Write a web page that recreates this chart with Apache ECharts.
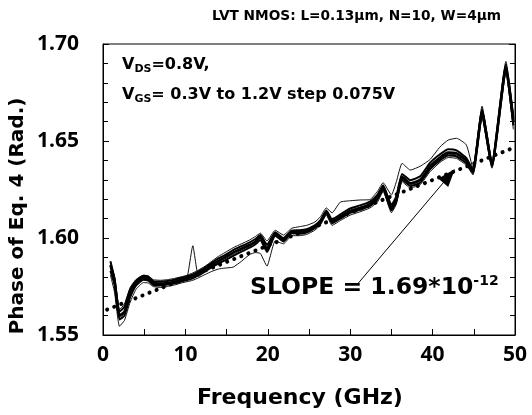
<!DOCTYPE html>
<html>
<head>
<meta charset="utf-8">
<script src="https://cdn.jsdelivr.net/npm/echarts@6/dist/echarts.min.js"></script>
<style>
html,body{margin:0;padding:0;background:#fff;}
#chart{width:532px;height:415px;}
</style>
</head>
<body>
<div id="chart"></div>
<script>
// Frequency points (GHz)
const freq = [0.9,1.4,2.0,2.6,3.3,4.0,4.9,5.5,6.1,7.0,7.8,8.7,9.5,10.2,10.9,11.6,12.4,13.2,14.0,14.8,15.8,16.8,17.8,18.5,19.1,19.9,20.9,21.9,22.9,23.8,24.7,25.7,26.4,27.1,27.8,28.8,30.0,31.2,32.4,33.3,34.0,35.0,35.6,36.3,37.3,38.5,39.7,40.9,41.9,42.9,44.1,44.9,46.0,47.2,48.9,49.8];

// Phase curves (rad) for several VGS values
const phaseA = [1.586,1.578,1.560,1.562,1.5715,1.577,1.5797,1.579,1.5768,1.5765,1.5768,1.5775,1.5785,1.5792,1.5802,1.5818,1.5838,1.5862,1.5882,1.5900,1.5925,1.5945,1.5964,1.5982,1.6005,1.5945,1.6022,1.5992,1.6032,1.6030,1.6035,1.6058,1.6085,1.6135,1.6085,1.6110,1.6140,1.6155,1.6175,1.6210,1.6262,1.6155,1.6200,1.6315,1.6282,1.6300,1.6370,1.6415,1.6440,1.6436,1.6400,1.6342,1.6650,1.6376,1.6880,1.6600];
const phaseB = [1.588,1.579,1.562,1.5645,1.5735,1.578,1.5805,1.580,1.5778,1.5775,1.5778,1.5785,1.5795,1.5802,1.5812,1.5828,1.5848,1.5872,1.5895,1.5912,1.5938,1.5958,1.5978,1.5995,1.6015,1.5965,1.6030,1.6000,1.6038,1.6040,1.6045,1.6065,1.6092,1.6142,1.6095,1.6122,1.6152,1.6168,1.6188,1.6222,1.6272,1.6170,1.6215,1.6330,1.6298,1.6318,1.6388,1.6432,1.6458,1.6452,1.6412,1.6350,1.6665,1.6385,1.6895,1.6620];
const phaseC = [1.583,1.576,1.558,1.560,1.5695,1.5755,1.5785,1.578,1.5758,1.5755,1.5760,1.5766,1.5776,1.5783,1.5792,1.5808,1.5828,1.5850,1.5868,1.5885,1.5908,1.5930,1.5950,1.5968,1.5990,1.5928,1.6012,1.5982,1.6025,1.6022,1.6028,1.6050,1.6078,1.6128,1.6076,1.6100,1.6130,1.6145,1.6165,1.6198,1.6250,1.6142,1.6188,1.6300,1.6268,1.6285,1.6355,1.6400,1.6425,1.6420,1.6385,1.6335,1.6635,1.6368,1.6865,1.6580];
const phaseUpper = [1.5875,1.580,1.563,1.566,1.5745,1.5785,1.5808,1.5805,1.5785,1.5782,1.5785,1.5792,1.5800,1.5808,1.5820,1.5835,1.5855,1.5880,1.5905,1.5925,1.5950,1.5970,1.5990,1.6008,1.6025,1.5985,1.6040,1.6015,1.6050,1.6058,1.6065,1.6082,1.6110,1.6155,1.6130,1.6185,1.6192,1.6196,1.6198,1.6240,1.6285,1.6222,1.6290,1.6385,1.6350,1.6370,1.6405,1.6470,1.6505,1.6514,1.6480,1.6360,1.6680,1.6395,1.6910,1.6640];
const phaseLower = [1.581,1.572,1.5545,1.5575,1.567,1.5735,1.5770,1.5768,1.5750,1.5745,1.5750,1.5758,1.5768,1.5775,1.5782,1.5795,1.5812,1.5828,1.5840,1.5845,1.5850,1.5880,1.5915,1.5925,1.5920,1.5855,1.5985,1.5970,1.6012,1.6012,1.6018,1.6040,1.6068,1.6118,1.6065,1.6090,1.6118,1.6135,1.6155,1.6185,1.6240,1.6130,1.6175,1.6290,1.6258,1.6275,1.6342,1.6390,1.6415,1.6410,1.6375,1.6325,1.6625,1.6360,1.6850,1.6560];
const phaseSpike = [1.5845,1.577,1.559,1.561,1.5705,1.576,1.579,1.5785,1.5762,1.576,1.5764,1.577,1.578,1.5795,1.5960,1.5800,1.5832,1.5855,1.5875,1.5893,1.5915,1.5938,1.5958,1.5975,1.5998,1.5935,1.6018,1.5986,1.6028,1.6026,1.6032,1.6054,1.6082,1.6132,1.6080,1.6105,1.6135,1.6150,1.6170,1.6205,1.6256,1.6150,1.6195,1.6308,1.6275,1.6292,1.6362,1.6408,1.6432,1.6428,1.6392,1.6338,1.6642,1.6372,1.6872,1.6590];

// Linear fit (slope 1.69e-12 rad/Hz)
const fitFreq = [0.5, 50];
const fitPhase = [1.5631, 1.6468];

// Arrow annotation (data coordinates)
const arrowFrom = [30.8, 1.5758];
const arrowTo = [42.0, 1.6320];

// Axis ticks
const yTicks = [1.55, 1.60, 1.65, 1.70];
const xTicks = [0, 10, 20, 30, 40, 50];

const FONT = 'Noto Sans';
const DV = '"DejaVu Sans"';
const pair = (xs, ys) => xs.map((x, i) => [x, ys[i]]);

const chart = echarts.init(document.getElementById('chart'), null, {renderer: 'canvas'});

function lineSeries(arr, w, col) {
  return {
    type: 'line', data: pair(freq, arr), showSymbol: false, symbol: 'none',
    lineStyle: {color: col, width: w}, smooth: 0.15, z: 3, animation: false
  };
}

const option = {
  animation: false,
  backgroundColor: '#fff',
  grid: {left: 103, right: 17, top: 44, bottom: 80, show: true, borderColor: '#000', borderWidth: 1, backgroundColor: 'transparent'},
  xAxis: [{
    type: 'value', min: xTicks[0], max: xTicks[xTicks.length - 1], interval: 10,
    name: 'Frequency (GHz)', nameLocation: 'middle', nameGap: 52,
    nameTextStyle: {fontFamily: 'DejaVu Sans', fontWeight: 'bold', fontSize: 22, color: '#000', padding: [0, 18, 0, 0]},
    axisLine: {show: true, lineStyle: {color: '#000', width: 1}},
    axisTick: {show: true, inside: true, length: 6, lineStyle: {color: '#000'}},
    minorTick: {show: true, splitNumber: 2, length: 6, lineStyle: {color: '#000'}},
    axisLabel: {fontFamily: FONT, fontWeight: 'bold', fontSize: 21, color: '#000', margin: 10},
    splitLine: {show: false}
  }],
  yAxis: [{
    type: 'value', min: yTicks[0], max: yTicks[yTicks.length - 1], interval: 0.05,
    axisLine: {show: true, lineStyle: {color: '#000', width: 1}},
    axisTick: {show: true, inside: true, length: 6, lineStyle: {color: '#000'}},
    minorTick: {show: true, splitNumber: 5, length: 5, lineStyle: {color: '#000'}},
    axisLabel: {fontFamily: FONT, fontWeight: 'bold', fontSize: 21, color: '#000', margin: 24, formatter: v => v.toFixed(2)},
    splitLine: {show: false}
  }, {
    type: 'value', position: 'right', min: yTicks[0], max: yTicks[yTicks.length - 1], interval: 0.05,
    axisLine: {show: true, lineStyle: {color: '#000', width: 1}},
    axisTick: {show: true, inside: true, length: 6, lineStyle: {color: '#000'}},
    minorTick: {show: true, splitNumber: 5, length: 5, lineStyle: {color: '#000'}},
    axisLabel: {show: false},
    splitLine: {show: false}
  }],
  series: [
    lineSeries(phaseUpper, 1, '#111'),
    lineSeries(phaseLower, 1, '#111'),
    lineSeries(phaseSpike, 1, '#111'),
    lineSeries(phaseB, 2, '#000'),
    lineSeries(phaseC, 2, '#000'),
    lineSeries(phaseA, 2.6, '#000'),
    {
      type: 'line', data: pair(fitFreq, fitPhase), showSymbol: false, symbol: 'none', z: 4,
      lineStyle: {color: '#000', width: 4, type: [0.1, 7.5], cap: 'round'},
      markLine: {
        silent: true, symbol: ['none', 'triangle'], symbolSize: [13, 18],
        label: {show: false},
        lineStyle: {color: '#000', width: 1, type: 'solid'},
        data: [[{coord: arrowFrom}, {coord: arrowTo}]]
      }
    }
  ],
  graphic: [
    {type: 'text', right: 31, top: 9, style: {text: 'LVT NMOS: L=0.13\u03bcm, N=10, W=4\u03bcm', font: 'bold 13.7px ' + DV, fill: '#000'}},
    {type: 'text', left: 122, top: 57, style: {
      text: '{m|V}{s|DS}{m|=0.8V,}', fill: '#000',
      rich: {m: {font: 'bold 16px ' + DV, fill: '#000'}, s: {font: 'bold 11px ' + DV, fill: '#000', padding: [8, 0, 0, 0]}}}},
    {type: 'text', left: 122, top: 87, style: {
      text: '{m|V}{s|GS}{m|= 0.3V to 1.2V step 0.075V}', fill: '#000',
      rich: {m: {font: 'bold 16px ' + DV, fill: '#000'}, s: {font: 'bold 11px ' + DV, fill: '#000', padding: [8, 0, 0, 0]}}}},
    {type: 'text', left: 250, top: 274, style: {
      text: '{m|SLOPE = 1.69*10}{p|-12}', fill: '#000',
      rich: {m: {font: 'bold 23.5px ' + DV, fill: '#000'}, p: {font: 'bold 14px ' + DV, fill: '#000', padding: [0, 0, 13, 0]}}}},
    {type: 'text', x: 18, y: 216, rotation: Math.PI / 2, style: {
      text: 'Phase of Eq. 4 (Rad.)', font: 'bold 20px ' + DV, fill: '#000', align: 'center', verticalAlign: 'middle'}}
  ]
};
chart.setOption(option);
</script>
</body>
</html>
